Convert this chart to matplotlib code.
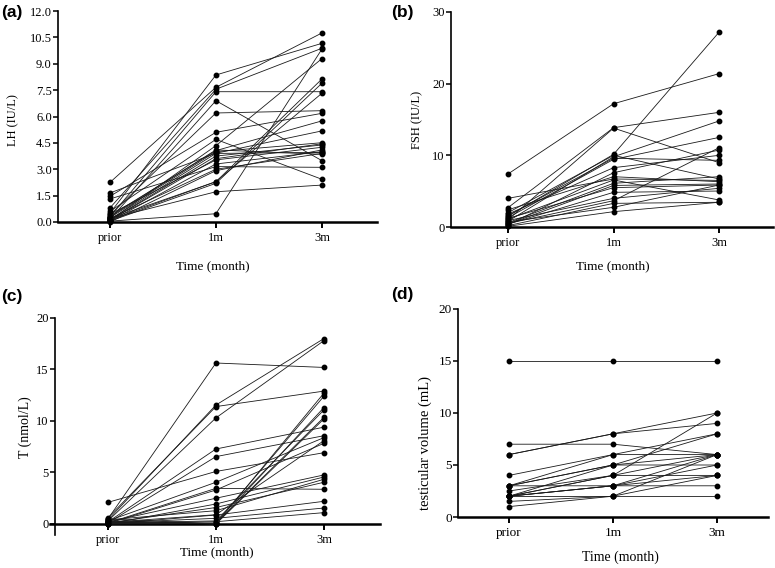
import numpy as np
import matplotlib
matplotlib.use('Agg')
import matplotlib.pyplot as plt

# time points
times = ['prior', '1m', '3m']

# (a) LH (IU/L), one entry per patient
lh_prior = [0.5, 2.25, 0.8, 0.3, 0.15, 0.4, 1.46, 0.6, 0.1, 0.05, 0.2, 0.05, 0.1,
            0.2, 1.31, 0.35, 1.65, 0.25, 0.1, 0.45, 0.0, 0.15, 0.3, 0.05, 0.2, 0.1]
lh_1m = [8.36, 7.66, 7.55, 7.41, 6.9, 6.2, 5.1, 4.7, 4.34, 0.47, 2.29, 2.2, 2.3,
         1.72, 3.15, 4.06, 3.91, 4.0, 3.75, 3.53, 2.92, 3.9, 4.1, 3.3, 3.0, 3.6]
lh_3m = [10.16, 10.75, 9.88, 7.41, 3.49, 6.33, 6.18, 2.43, 9.29, 9.83, 8.13, 7.89, 7.32,
         2.1, 3.11, 5.75, 5.18, 4.51, 4.38, 4.25, 4.1, 3.96, 3.85, 4.0, 3.9, 4.45]

# (b) FSH (IU/L)
fsh_prior = [7.4, 2.7, 1.0, 1.5, 0.8, 1.3, 0.5, 2.0, 1.8, 0.3, 2.4, 1.1,
             0.6, 1.2, 0.4, 4.0, 0.9, 0.2, 0.7, 0.1, 1.6, 0.4]
fsh_1m = [17.2, 13.86, 13.8, 10.14, 9.8, 9.44, 3.67, 10.0, 8.28, 7.58, 7.02, 6.56,
          6.1, 5.49, 4.84, 6.7, 4.0, 3.3, 2.75, 2.14, 9.6, 5.8]
fsh_3m = [21.4, 16.0, 8.97, 27.2, 14.8, 12.5, 11.07, 6.7, 10.0, 10.74, 6.32, 3.77,
          7.02, 5.86, 5.02, 6.5, 5.4, 3.45, 5.86, 3.45, 9.3, 6.0]

# (c) T (nmol/L)
t_prior = [0.5, 0.4, 0.3, 0.6, 0.2, 0.1, 2.1, 0.3, 0.1, 0.05, 0.2, 0.0,
           0.1, 0.4, 0.0, 0.1, 0.0, 0.2, 0.05, 0.3, 0.1, 0.0, 0.5, 0.15]
t_1m = [15.63, 11.55, 10.3, 11.4, 7.28, 6.54, 5.1, 4.05, 3.46, 3.3, 2.5, 1.94,
        1.6, 1.29, 0.87, 0.55, 0.22, 0.0, 0.1, 0.0, 0.3, 0.05, 0.0, 0.9]
t_3m = [15.2, 18.0, 17.8, 12.9, 9.4, 8.57, 6.92, 8.38, 3.37, 7.83, 4.76, 4.56,
        4.05, 4.34, 2.2, 1.55, 1.1, 12.7, 12.4, 11.3, 11.07, 10.35, 10.2, 8.09]

# (d) testicular volume (mL)
tv_prior = [15, 7, 6, 6, 4, 3, 2, 3, 3, 2, 2.5, 2, 3, 2, 2, 1.5, 1, 2, 2]
tv_1m = [15, 7, 8, 8, 6, 5, 4, 6, 5, 5, 4, 4, 3, 3, 3, 2, 2, 2, 3]
tv_3m = [15, 6, 9, 10, 8, 8, 10, 6, 6, 5, 6, 4, 5, 4, 3, 6, 4, 2, 6]

W, H = 775, 568
fig = plt.figure(figsize=(W / 100, H / 100), dpi=100)
serif = 'Liberation Serif'


def px(x0, y0, x1, y1):
    # pixel box -> figure fraction [left, bottom, width, height]
    return [x0 / W, 1 - y1 / H, (x1 - x0) / W, (y1 - y0) / H]


def panel(box, xlim, ylim, yticks, ytlabels, pre, one, three, tick_fs, yaxis_x=None):
    ax = fig.add_axes(px(*box))
    for s in ['top', 'right']:
        ax.spines[s].set_visible(False)
    if yaxis_x is not None:
        # y axis sits a little inside, x axis at zero (as in panel c)
        ax.spines['left'].set_position(('data', yaxis_x))
        ax.spines['bottom'].set_position(('data', 0))
    ax.spines['left'].set_linewidth(1.2)
    ax.spines['bottom'].set_linewidth(1.8)
    x = np.arange(len(times))
    for a, b, c in zip(pre, one, three):
        ax.plot(x, [a, b, c], color='#1a1a1a', lw=0.6, marker='o', ms=3.2,
                mec='black', mfc='black', clip_on=False, zorder=3)
    ax.set_xlim(*xlim)
    ax.set_ylim(*ylim)
    ax.set_xticks(x)
    ax.set_xticklabels(times, family=serif, fontsize=tick_fs)
    ax.set_yticks(yticks)
    ax.set_yticklabels(ytlabels, family=serif, fontsize=tick_fs)
    ax.tick_params(axis='y', length=3.5, width=1.1, pad=1, direction='out')
    ax.tick_params(axis='x', length=4, width=1.4, pad=3, direction='out')
    return ax


def ftext(x, y, s, **kw):
    fig.text(x / W, 1 - y / H, s, **kw)


# (a)
panel((58, 11, 377, 222), (-0.49, 2.52), (0, 12), np.arange(0, 12.1, 1.5),
      ['%.1f' % v for v in np.arange(0, 12.1, 1.5)], lh_prior, lh_1m, lh_3m, 9)
ftext(1, 12, '(a)', family='Liberation Sans', weight='bold', fontsize=12.5, va='center')
ftext(13, 120, 'LH (IU/L)', family=serif, fontsize=9, rotation=90, ha='center', va='center')
ftext(213, 266, 'Time (month)', family=serif, fontsize=9.5, ha='center', va='center')

# (b)
panel((451, 12, 773, 227), (-0.54, 2.51), (0, 30), [0, 10, 20, 30],
      ['0', '10', '20', '30'], fsh_prior, fsh_1m, fsh_3m, 9)
ftext(391, 12, '(b)', family='Liberation Sans', weight='bold', fontsize=12.5, va='center')
ftext(417, 120, 'FSH (IU/L)', family=serif, fontsize=9, rotation=90, ha='center', va='center')
ftext(613, 266, 'Time (month)', family=serif, fontsize=9.5, ha='center', va='center')

# (c)
panel((50, 318, 380, 535), (-0.537, 2.52), (-1.07, 20), [0, 5, 10, 15, 20],
      ['0', '5', '10', '15', '20'], t_prior, t_1m, t_3m, 9, yaxis_x=-0.49)
ftext(1, 297, '(c)', family='Liberation Sans', weight='bold', fontsize=12.5, va='center')
ftext(25, 427, 'T (nmol/L)', family=serif, fontsize=10, rotation=90, ha='center', va='center')
ftext(217, 552, 'Time (month)', family=serif, fontsize=9.5, ha='center', va='center')

# (d)
panel((458, 309, 768, 517), (-0.49, 2.49), (0, 20), [0, 5, 10, 15, 20],
      ['0', '5', '10', '15', '20'], tv_prior, tv_1m, tv_3m, 9.5)
ftext(391, 295, '(d)', family='Liberation Sans', weight='bold', fontsize=12.5, va='center')
ftext(425, 443, 'testicular volume (mL)', family=serif, fontsize=10.5, rotation=90, ha='center', va='center')
ftext(620, 557, 'Time (month)', family=serif, fontsize=10, ha='center', va='center')

plt.savefig('out.png', dpi=100)
